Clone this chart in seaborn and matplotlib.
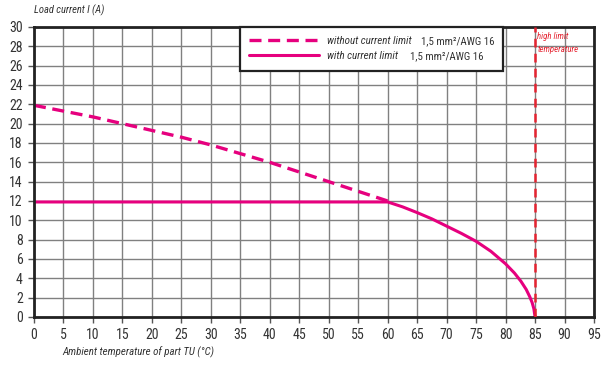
import matplotlib
matplotlib.use("Agg")
import matplotlib.pyplot as plt
import seaborn as sns
import pandas as pd
from matplotlib import font_manager as fm

# ---- data ----
temp_without = [0, 5, 10, 15, 20, 25, 30, 35, 40, 45, 50, 55, 60]
current_without = [21.9, 21.3, 20.7, 20.0, 19.3, 18.6, 17.8, 16.9, 16.0, 15.0, 14.0, 13.0, 12.0]

temp_with = [0, 60, 62.5, 65, 67.5, 70, 72.5, 75, 77.5, 80, 81.5, 82.6, 83.5, 84.1, 84.5, 84.8, 85]
current_with = [11.9, 11.9, 11.4, 10.8, 10.15, 9.4, 8.65, 7.83, 6.8, 5.5, 4.55, 3.7, 2.85, 2.1, 1.5, 0.85, 0.0]

limit_temp = 85
x_ticks = list(range(0, 96, 5))
y_ticks = list(range(0, 31, 2))

label_without = "without current limit"
label_with = "with current limit"
cable_text = "1,5 mm²/AWG 16"

sns.set_theme(style="white")
names = {f.name for f in fm.fontManager.ttflist}
narrow = [n for n in ["Liberation Sans Narrow", "DejaVu Sans Condensed", "Roboto Condensed"] if n in names]
FAM = narrow + ["DejaVu Sans"]
plt.rcParams['font.family'] = FAM
plt.rcParams['font.stretch'] = 'condensed'
has_narrow = len(narrow) > 0

MAGENTA = "#e6007e"
RED = "#e52330"
TXT = "#333333"

fig = plt.figure(figsize=(6.08, 3.85), dpi=100)
ax = fig.add_axes([34 / 608, 1 - 317 / 385, (594 - 34) / 608, (317 - 27) / 385])

df_without = pd.DataFrame({"T": temp_without, "I": current_without})
df_with = pd.DataFrame({"T": temp_with, "I": current_with})

sns.lineplot(data=df_without, x="T", y="I", ax=ax, color=MAGENTA, lw=2.4,
             sort=False, estimator=None, label=label_without)
ax.lines[-1].set_dashes((3.6, 2.0))
sns.lineplot(data=df_with, x="T", y="I", ax=ax, color=MAGENTA, lw=2.2,
             sort=False, estimator=None, label=label_with)

ax.axvline(limit_temp, color=RED, lw=1.8, dashes=(3.5, 2.5), zorder=3)
ax.text(limit_temp + 0.4, 29.45, "high limit\ntemperature", color=RED,
        fontsize=6.3, style="italic", va="top", ha="left", linespacing=1.55, zorder=6)

ax.set_xlim(0, 95)
ax.set_ylim(0, 30)
ax.set_xticks(x_ticks)
ax.set_yticks(y_ticks)
ax.grid(True, color="#808080", lw=1.0)
ax.set_axisbelow(True)
for s in ax.spines.values():
    s.set_visible(True)
    s.set_color("#222222")
    s.set_linewidth(2.0)
ax.tick_params(axis="both", which="both", length=4, width=1, color="#555555",
               labelsize=10 if has_narrow else 9.5, labelcolor=TXT, direction="out",
               bottom=True, left=True, pad=4)
ax.set_xlabel("")
ax.set_ylabel("")

fig.text(34 / 608, 1 - 10 / 385, "Load current I (A)", fontsize=7.6 if has_narrow else 7,
         style="italic", color=TXT, ha="left", va="center")
fig.text(62 / 608, 1 - 352 / 385, "Ambient temperature of part TU (°C)",
         fontsize=7.8 if has_narrow else 7, style="italic", color=TXT, ha="left", va="center")

leg_size = 7.9 if has_narrow else 7
leg = ax.legend(loc="upper left",
                bbox_to_anchor=(240 / 608, 1 - 72 / 385, 263 / 608, 45 / 385),
                bbox_transform=fig.transFigure, mode="expand",
                borderaxespad=0, frameon=True, fancybox=False,
                prop=dict(family=FAM, size=leg_size, style="italic"),
                handlelength=70 / (leg_size * 100 / 72), handletextpad=0.7,
                borderpad=0.85, labelspacing=0.45)
leg.get_frame().set_edgecolor("#222222")
leg.get_frame().set_linewidth(1.6)
leg.get_frame().set_alpha(1)
for t in leg.get_texts():
    t.set_color(TXT)

fig.canvas.draw()
inv = fig.transFigure.inverted()
for t, xpx in zip(leg.get_texts(), [421, 410]):
    bb = t.get_window_extent()
    yc = (bb.y0 + bb.y1) / 2
    fx, fy = inv.transform((xpx, yc))
    fig.text(xpx / 608, fy, cable_text, fontsize=7.8 if has_narrow else 6.5,
             color=TXT, ha="left", va="center", zorder=10)

fig.savefig("out.png", dpi=100)
